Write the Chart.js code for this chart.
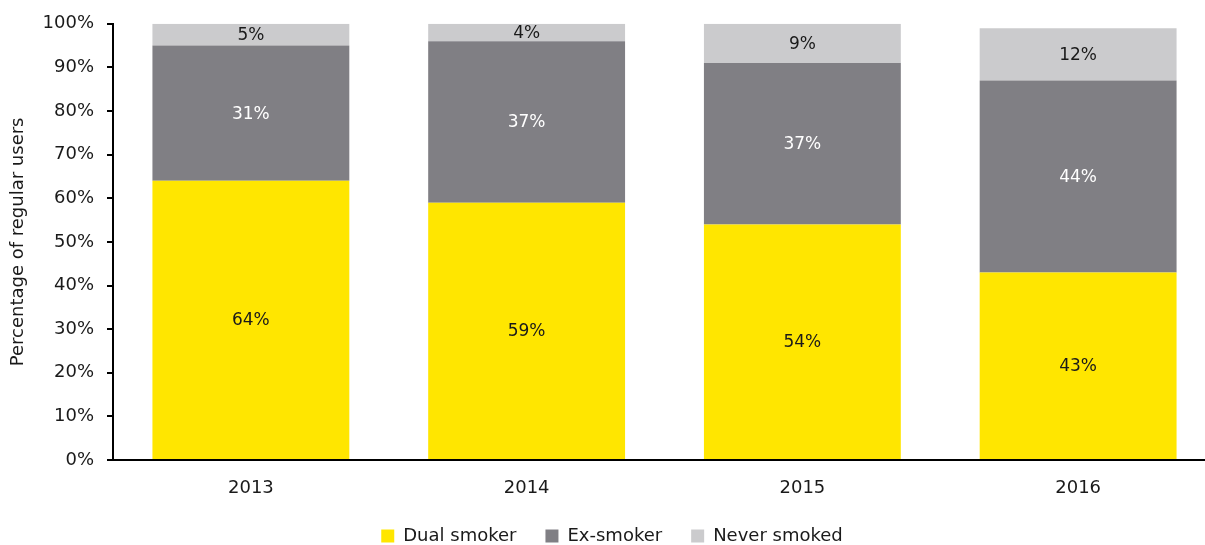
<!DOCTYPE html>
<html>
<head>
<meta charset="utf-8">
<script src="https://cdn.jsdelivr.net/npm/chart.js@4.4.1/dist/chart.umd.min.js"></script>
<style>
  html, body { margin: 0; padding: 0; background: #ffffff; overflow: hidden; }
  #wrap { width: 1205px; height: 545px; overflow: hidden; position: relative; }
  #box { width: 1216px; height: 545px; position: absolute; left: 0; top: 0; }
</style>
</head>
<body>
<div id="wrap"><div id="box"><canvas id="chart"></canvas></div></div>
<script>
// Share of regular users by smoking status, per survey year
const years = ['2013', '2014', '2015', '2016'];
const seriesNames = ['Dual smoker', 'Ex-smoker', 'Never smoked'];
const dualSmoker = [64, 59, 54, 43];
const exSmoker = [31, 37, 37, 44];
const neverSmoked = [5, 4, 9, 12];
const yTickValues = [0, 10, 20, 30, 40, 50, 60, 70, 80, 90, 100];

const FONT = '"DejaVu Sans", sans-serif';
const TEXT = '#1a1a1a';
const SIZE = 18;

// Writes each segment's percentage in the middle of its bar piece
const segmentLabels = {
  id: 'segmentLabels',
  afterDatasetsDraw(chart) {
    const ctx = chart.ctx;
    chart.data.datasets.forEach((ds, i) => {
      const meta = chart.getDatasetMeta(i);
      if (meta.hidden) return;
      meta.data.forEach((bar, j) => {
        const p = bar.getProps(['x', 'y', 'base'], true);
        ctx.save();
        ctx.fillStyle = ds.labelColor;
        ctx.font = (SIZE - 1) + 'px ' + FONT;
        ctx.textAlign = 'center';
        ctx.textBaseline = 'middle';
        ctx.fillText(ds.data[j] + '%', p.x, (p.y + p.base) / 2 + 1);
        ctx.restore();
      });
    });
  }
};

new Chart(document.getElementById('chart'), {
  type: 'bar',
  data: {
    labels: years,
    datasets: [
      { label: seriesNames[0], data: dualSmoker, backgroundColor: '#FFE600', labelColor: TEXT },
      { label: seriesNames[1], data: exSmoker, backgroundColor: '#807F84', labelColor: '#ffffff' },
      { label: seriesNames[2], data: neverSmoked, backgroundColor: '#CBCBCD', labelColor: TEXT }
    ]
  },
  options: {
    responsive: true,
    maintainAspectRatio: false,
    animation: false,
    layout: { padding: { left: 8, right: 0, top: 14, bottom: -10 } },
    datasets: { bar: { categoryPercentage: 1.0, barPercentage: 0.714, borderWidth: 0 } },
    scales: {
      x: {
        stacked: true,
        afterFit(scale) { scale.height = 38; },
        grid: { display: true, drawOnChartArea: false, drawTicks: false },
        border: { display: true, color: '#000000', width: 2 },
        ticks: { color: TEXT, font: { family: FONT, size: SIZE }, padding: 18 }
      },
      y: {
        stacked: true,
        min: 0,
        max: 100,
        afterFit(scale) { scale.width = 105; },
        afterBuildTicks(scale) { scale.ticks = yTickValues.map(v => ({ value: v })); },
        grid: { drawOnChartArea: false, drawTicks: true, tickLength: 6, color: '#000000', lineWidth: 2 },
        border: { display: true, color: '#000000', width: 2 },
        ticks: { color: TEXT, font: { family: FONT, size: SIZE }, padding: 13, callback: v => v + '%' },
        title: { display: true, text: 'Percentage of regular users', color: TEXT, font: { family: FONT, size: SIZE }, padding: { top: 0, bottom: 0 } }
      }
    },
    plugins: {
      legend: {
        position: 'bottom',
        labels: { boxWidth: 13, boxHeight: 13, color: TEXT, font: { family: FONT, size: SIZE }, padding: 29 }
      },
      tooltip: { enabled: false }
    }
  },
  plugins: [segmentLabels]
});
</script>
</body>
</html>
